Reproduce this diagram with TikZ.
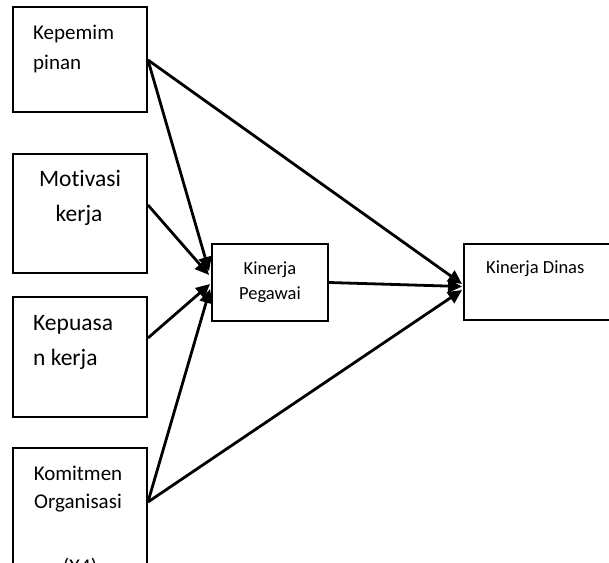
\documentclass[tikz,border=0pt]{standalone}
\usepackage{fontspec}
\setmainfont{Carlito}[Ligatures=NoCommon]
\usetikzlibrary{arrows.meta}
\begin{document}
\begin{tikzpicture}[x=1pt,y=-1pt,
  box/.style={draw, line width=1.9pt, inner sep=0pt},
  conn/.style={line width=2.8pt, -{Triangle[length=14pt,width=13pt]}},
  lbl/.style={inner sep=0pt},
  fa/.style={font=\fontsize{21}{25}\selectfont},
  fb/.style={font=\fontsize{23.5}{28}\selectfont},
  fc/.style={font=\fontsize{18.5}{22}\selectfont}]
\useasboundingbox (0,0) rectangle (609,562);
\clip (0,0) rectangle (609,562);
% boxes
\node[box, minimum width=134pt, minimum height=105pt] (b1) at (80,59.5) {};
\node[box, minimum width=134pt, minimum height=119pt] (b2) at (80,213.5) {};
\node[box, minimum width=134pt, minimum height=120pt] (b3) at (80,357) {};
\node[box, minimum width=134pt, minimum height=152pt] (b4) at (80,524) {};
\node[box, minimum width=116pt, minimum height=77pt] (kp) at (270,282.5) {};
\node[box, minimum width=176pt, minimum height=76pt] (kd) at (552,282) {};
% texts
\node[lbl, fa, anchor=base west] (t1a) at (33,39.5) {Kepemim};
\node[lbl, fa, anchor=base west] (t1b) at (33,69) {pinan};
\node[lbl, fb, anchor=base] (t2a) at (80,186.5) {Motivasi};
\node[lbl, fb, anchor=base] (t2b) at (79,221.5) {kerja};
\node[lbl, fb, anchor=base west] (t3a) at (33,330) {Kepuasa};
\node[lbl, fb, anchor=base west] (t3b) at (33,365) {n kerja};
\node[lbl, fa, anchor=base] (t4a) at (78,480) {Komitmen};
\node[lbl, fa, anchor=base] (t4b) at (78,508.5) {Organisasi};
\node[lbl, fa, anchor=base] (t4c) at (80,573) {(X4)};
\node[lbl, fc, anchor=base] (tpa) at (270,274) {Kinerja};
\node[lbl, fc, anchor=base] (tpb) at (270,299) {Pegawai};
\node[lbl, fc, anchor=base west] (tda) at (486,273.5) {Kinerja Dinas};
% connectors
\draw[conn] ([yshift=-0.5pt]b1.east) -- ([xshift=-2pt,yshift=11.5pt]kp.west);
\draw[conn] ([yshift=8.5pt]b2.east) -- ([xshift=-2pt,yshift=7.5pt]kp.west);
\draw[conn] ([yshift=19pt]b3.east) -- ([xshift=-1pt,yshift=-1.5pt]kp.west);
\draw[conn] ([yshift=22pt]b4.east) -- ([xshift=-1pt,yshift=-6.5pt]kp.west);
\draw[conn] ([yshift=-0.5pt]b1.east) -- ([xshift=-1pt,yshift=-2pt]kd.west);
\draw[conn] (kp.east) -- ([xshift=-1pt,yshift=-4.5pt]kd.west);
\draw[conn] ([yshift=22pt]b4.east) -- ([xshift=-1pt,yshift=-8pt]kd.west);
\end{tikzpicture}
\end{document}
